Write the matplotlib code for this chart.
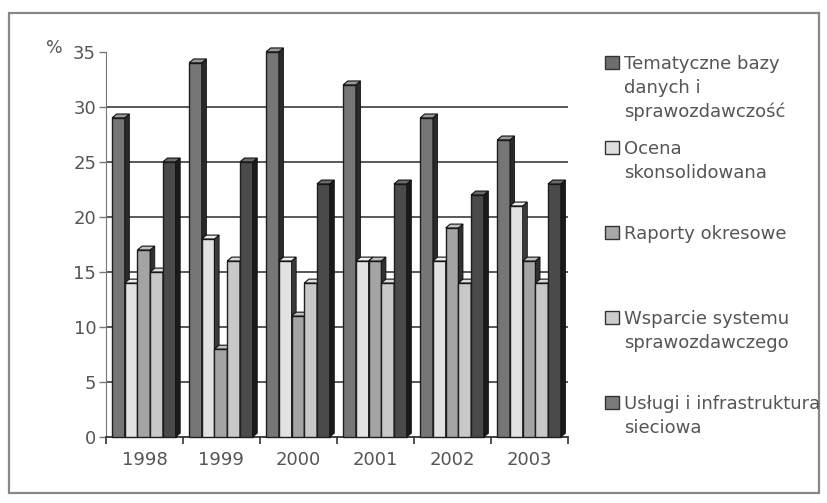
import matplotlib
matplotlib.use("Agg")
from matplotlib import pyplot as plt
from matplotlib.patches import Rectangle
import numpy as np

years = ["1998", "1999", "2000", "2001", "2002", "2003"]
series_names = [
    "Tematyczne bazy\ndanych i\nsprawozdawczość",
    "Ocena\nskonsolidowana",
    "Raporty okresowe",
    "Wsparcie systemu\nsprawozdawczego",
    "Usługi i infrastruktura\nsieciowa",
]
tematyczne = [29, 34, 35, 32, 29, 27]
ocena = [14, 18, 16, 16, 16, 21]
raporty = [17, 8, 11, 16, 19, 16]
wsparcie = [15, 16, 14, 14, 14, 14]
uslugi = [25, 25, 23, 23, 22, 23]
values = [tematyczne, ocena, raporty, wsparcie, uslugi]

front_colors = ["#767676", "#e2e2e2", "#a4a4a4", "#c8c8c8", "#4a4a4a"]
side_colors = ["#2a2a2a", "#3a3a3a", "#303030", "#353535", "#1a1a1a"]
top_colors = ["#9a9a9a", "#f0f0f0", "#c0c0c0", "#dcdcdc", "#6a6a6a"]
legend_colors = ["#6e6e6e", "#dedede", "#a8a8a8", "#cccccc", "#7a7a7a"]

text_col = "#555555"
plt.rcParams["font.family"] = ["DejaVu Sans"]

fig = plt.figure(figsize=(8.27, 5.03), dpi=100)
ax = fig.add_axes([0.128, 0.131, 0.559, 0.766])

x = np.arange(len(years))
w = 0.165   # front face width
d = 0.06    # depth (side face)
dy = 0.35   # vertical shift of the back edge
start = 0.08

for i in range(len(years)):
    for s in range(len(values)):
        h = values[s][i]
        x0 = x[i] + start + s * w
        ax.bar(x0, h, width=w, align="edge", color=front_colors[s],
               edgecolor="#1e1e1e", linewidth=1.0, zorder=3, clip_on=False)
        ax.fill([x0 + w, x0 + w + d, x0 + w + d, x0 + w],
                [0, dy, h + dy, h], color=side_colors[s],
                edgecolor="#111111", linewidth=0.6, zorder=3, clip_on=False)
        ax.fill([x0, x0 + w, x0 + w + d, x0 + d],
                [h, h, h + dy, h + dy], color=top_colors[s],
                edgecolor="#111111", linewidth=0.8, zorder=3, clip_on=False)

ax.set_xlim(0, len(years))
ax.set_ylim(0, 35)
yt = np.arange(0, 36, 5)
ax.set_yticks(yt)
for yv in yt[1:-1]:
    ax.axhline(yv, color="#3c3c3c", linewidth=1.2, zorder=1)

ax.set_xticks(np.arange(0, len(years) + 1))
ax.set_xticklabels([])
ax.set_xticks(x + 0.5, minor=True)
ax.set_xticklabels(years, minor=True)
ax.tick_params(axis="x", which="minor", length=0, pad=10,
               labelsize=13, labelcolor=text_col)
ax.tick_params(axis="x", which="major", length=5, width=1.2, color="#333333")
ax.tick_params(axis="y", length=5, width=1.0, color="#777777",
               labelsize=13, labelcolor=text_col, pad=2)

for sp in ["top", "right"]:
    ax.spines[sp].set_visible(False)
ax.spines["left"].set_color("#777777")
ax.spines["bottom"].set_color("#333333")
ax.spines["bottom"].set_linewidth(1.3)

fig.text(0.066, 0.905, "%", fontsize=12.5, color=text_col, ha="center", va="center")

# legend drawn by hand to keep the original's layout
lx, ly0, step = 0.731, 0.875, 0.169
for s, name in enumerate(series_names):
    yy = ly0 - s * step
    fig.patches.append(Rectangle((lx, yy - 0.013), 0.017, 0.026,
                                 transform=fig.transFigure,
                                 facecolor=legend_colors[s],
                                 edgecolor="#333333", linewidth=1.0))
    fig.text(lx + 0.024, yy + 0.015, name, fontsize=13, color=text_col,
             ha="left", va="top", linespacing=1.4)

# outer frame
fig.patches.append(Rectangle((0.011, 0.02), 0.979, 0.954,
                             transform=fig.transFigure, fill=False,
                             edgecolor="#888888", linewidth=1.6))

fig.savefig("out.png", dpi=100)
